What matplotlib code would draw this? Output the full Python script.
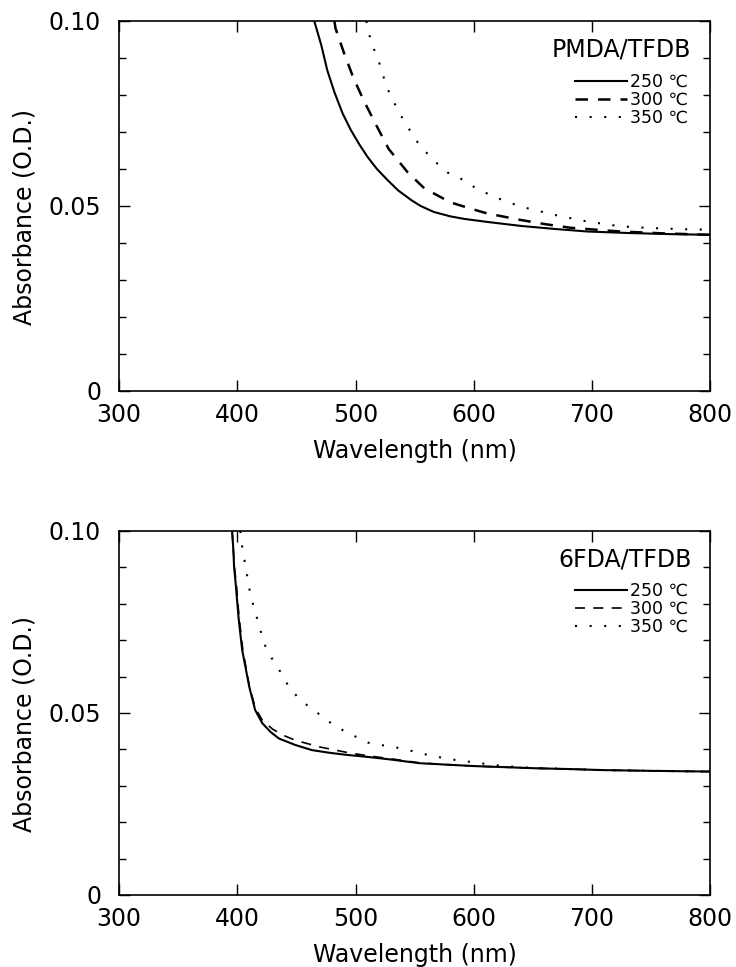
import numpy as np
import matplotlib
matplotlib.use("Agg")
import matplotlib.pyplot as plt
from matplotlib.ticker import MultipleLocator

plt.rcParams['font.family'] = ['DejaVu Sans']

# PMDA/TFDB (top panel)
wl_pmda_250 = [465, 471, 476, 482, 489, 496, 503, 510, 518, 527, 536, 547, 555, 566, 580, 592, 611, 640, 668, 696, 730, 765, 800]
ab_pmda_250 = [0.100, 0.0934, 0.0867, 0.0808, 0.0750, 0.0705, 0.0667, 0.0633, 0.0600, 0.0570, 0.0542, 0.0516, 0.0500, 0.0484, 0.0472, 0.0465, 0.0457, 0.0446, 0.0438, 0.0431, 0.0427, 0.0424, 0.0422]

wl_pmda_300 = [482, 483, 490, 498, 507, 517, 528, 544, 558, 580, 595, 611, 640, 660, 682, 724, 760, 800]
ab_pmda_300 = [0.100, 0.098, 0.0915, 0.0847, 0.0784, 0.0721, 0.0654, 0.0591, 0.0548, 0.0510, 0.0495, 0.0480, 0.0462, 0.0451, 0.0441, 0.0431, 0.0426, 0.0422]

wl_pmda_350 = [509, 511, 513, 518, 521, 524, 528, 533, 538, 544, 551, 559, 569, 578, 586, 598, 611, 625, 640, 668, 696, 724, 752, 780, 800]
ab_pmda_350 = [0.100, 0.0975, 0.094, 0.0907, 0.0876, 0.0845, 0.081, 0.0777, 0.0746, 0.0714, 0.0678, 0.0647, 0.0615, 0.059, 0.058, 0.0555, 0.0534, 0.0515, 0.0498, 0.0476, 0.0458, 0.0445, 0.0440, 0.0437, 0.0436]

# 6FDA/TFDB (bottom panel)
wl_6fda_250 = [395.5, 396.5, 397.2, 398.5, 401, 404, 410, 415, 421, 428, 435, 449, 463, 477, 492, 511, 530, 554, 577, 601, 627, 653, 680, 710, 750, 800]
ab_6fda_250 = [0.100, 0.095, 0.090, 0.0856, 0.076, 0.0673, 0.0572, 0.0508, 0.0472, 0.0448, 0.0430, 0.0412, 0.0398, 0.0391, 0.0385, 0.0379, 0.0372, 0.0362, 0.0358, 0.0354, 0.0351, 0.0348, 0.0346, 0.0343, 0.0341, 0.0339]

wl_6fda_300 = [395.5, 396.5, 397.5, 399, 401.5, 404.5, 410, 415, 421, 430, 440, 449, 469, 492, 511, 530, 554, 577, 601, 627, 653, 680, 710, 750, 800]
ab_6fda_300 = [0.100, 0.095, 0.090, 0.0856, 0.076, 0.0675, 0.0575, 0.0515, 0.0480, 0.0455, 0.0437, 0.0425, 0.0407, 0.0392, 0.0382, 0.0374, 0.0363, 0.0358, 0.0354, 0.0351, 0.0348, 0.0346, 0.0343, 0.0341, 0.0339]

wl_6fda_350 = [402.5, 404, 407, 411, 417, 422.5, 427, 434, 440, 446.5, 455, 463.5, 472, 480, 489, 500, 511, 525, 540, 554, 568, 582, 596, 610, 625, 650, 680, 710, 750, 800]
ab_6fda_350 = [0.100, 0.0957, 0.090, 0.0824, 0.0755, 0.0692, 0.066, 0.0627, 0.059, 0.0559, 0.0531, 0.051, 0.049, 0.047, 0.0453, 0.0435, 0.0418, 0.041, 0.0402, 0.039, 0.038, 0.0372, 0.0366, 0.036, 0.0354, 0.0349, 0.0346, 0.0343, 0.0341, 0.0339]

labels = ['250 \u2103', '300 \u2103', '350 \u2103']

fig = plt.figure(figsize=(7.36, 9.67), dpi=100)
ax1 = fig.add_axes([0.162, 0.5957, 0.803, 0.3826])
ax2 = fig.add_axes([0.162, 0.0745, 0.803, 0.3764])


def style_axes(ax, name):
    ax.set_xlim(300, 800)
    ax.set_ylim(0, 0.10)
    ax.set_xticks([300, 400, 500, 600, 700, 800])
    ax.set_yticks([0, 0.05, 0.10], ['0', '0.05', '0.10'])
    ax.yaxis.set_minor_locator(MultipleLocator(0.01))
    ax.tick_params(which='both', direction='in', top=True, right=True, width=1.0)
    ax.tick_params(which='major', length=8, labelsize=17)
    ax.tick_params(which='minor', length=5)
    ax.tick_params(axis='x', which='major', pad=9)
    ax.tick_params(axis='y', which='major', pad=13)
    for s in ax.spines.values():
        s.set_linewidth(1.2)
    ax.set_xlabel('Wavelength (nm)', fontsize=17, labelpad=8)
    ax.set_ylabel('Absorbance (O.D.)', fontsize=17)
    ax.yaxis.set_label_coords(-0.14, 0.47)
    ax.text(0.968, 0.922, name, transform=ax.transAxes, ha='right', va='center', fontsize=17)
    ax.legend(loc='upper right', bbox_to_anchor=(0.962, 0.86), frameon=False,
              fontsize=12.5, handlelength=3.0, handletextpad=0.15,
              labelspacing=0.0, borderpad=0, borderaxespad=0)


ax1.plot(wl_pmda_250, ab_pmda_250, color='black', lw=1.5, label=labels[0])
ax1.plot(wl_pmda_300, ab_pmda_300, color='black', lw=1.8, linestyle=(0, (5, 4)), label=labels[1])
ax1.plot(wl_pmda_350, ab_pmda_350, color='black', lw=1.5, linestyle=(0, (1, 6)), label=labels[2])
style_axes(ax1, 'PMDA/TFDB')

ax2.plot(wl_6fda_250, ab_6fda_250, color='black', lw=1.5, label=labels[0])
ax2.plot(wl_6fda_300, ab_6fda_300, color='black', lw=1.2, linestyle=(0, (6, 5)), label=labels[1])
ax2.plot(wl_6fda_350, ab_6fda_350, color='black', lw=1.5, linestyle=(0, (1, 6)), label=labels[2])
style_axes(ax2, '6FDA/TFDB')

fig.savefig('out.png', dpi=100)
